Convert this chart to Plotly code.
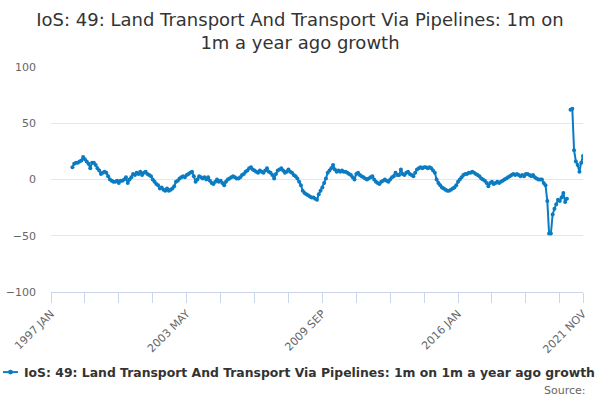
import plotly.graph_objects as go

month_names = ["JAN", "FEB", "MAR", "APR", "MAY", "JUN",
               "JUL", "AUG", "SEP", "OCT", "NOV", "DEC"]
months = [f"{y} {m}" for y in range(1997, 2022) for m in month_names][:299]

# monthly growth, 1998 JAN onwards (1997 has no year-ago base)
growth = [None] * 12 + [
    11, 14, 15, 15, 16, 17, 20, 18, 16, 14, 10, 15,      # 1998
    15, 13, 10, 8, 5, 6, 7, 6, 3, 0, -1, -2,             # 1999
    -2, -1, -3, -1, -1, 0, 2, -3, 0, 2, 5, 4,            # 2000
    6, 5, 7, 4, 6, 7, 5, 4, 3, 0, -2, -4,                # 2001
    -5, -8, -7, -9, -10, -8, -10, -9, -8, -6, -2, -1,    # 2002
    1, 2, 3, 2, 4, 5, 6, 7, 3, -2, 0, 3,                 # 2003
    2, 1, 2, 0, 2, -1, -3, -4, -2, 0, -2, -1,            # 2004
    -3, -5, -2, 0, 1, 2, 3, 2, 1, 1, 2, 4,               # 2005
    5, 7, 8, 10, 11, 9, 8, 7, 6, 8, 7, 6,                # 2006
    8, 10, 7, 6, 4, 1, 5, 8, 9, 10, 8, 6,                # 2007
    7, 9, 7, 6, 4, 3, 1, -2, -5, -10, -12, -13,          # 2008
    -14, -15, -16, -16, -17, -18, -13, -10, -7, -3, 1, 6,  # 2009
    8, 10, 13, 9, 7, 8, 7, 8, 7, 7, 6, 5,                # 2010
    4, 2, 0, 5, 6, 4, 3, 2, 1, 0, 1, 2,                  # 2011
    3, 0, -2, -3, -4, -2, -1, 0, -1, -2, 0, 2,           # 2012
    3, 6, 4, 4, 9, 5, 4, 6, 7, 5, 4, 3,                  # 2013
    6, 9, 10, 11, 10, 11, 11, 10, 11, 10, 8, 6,          # 2014
    0, -3, -5, -7, -8, -9, -10, -10, -9, -8, -7, -5,     # 2015
    -2, 0, 2, 4, 5, 5, 6, 6, 7, 6, 5, 4,                 # 2016
    3, 1, 0, -1, -3, -6, -3, -2, -4, -3, -2, -3,         # 2017
    -2, -1, 0, 1, 2, 3, 4, 5, 4, 5, 4, 3,                # 2018
    4, 3, 5, 5, 4, 3, 4, 2, 1, 0, 0, 0,                  # 2019
    -3, -5, -19, -48, -48, -31, -26, -22, -18, -19, -16, -12,  # 2020
    -20, -17, None, 62, 63, 26, 16, 13, 7, 15, 21,       # 2021
]

series_name = "IoS: 49: Land Transport And Transport Via Pipelines: 1m on 1m a year ago growth"
line_color = "#0b7cc1"

tick_idx = list(range(0, 299, 19)) + [298]
tick_vals = [months[i] for i in tick_idx]
tick_text = [months[i] if i in (0, 76, 152, 228, 298) else "" for i in tick_idx]

fig = go.Figure()
fig.add_trace(
    go.Scatter(
        x=months,
        y=growth,
        mode="lines+markers",
        name=series_name,
        line=dict(color=line_color, width=2),
        marker=dict(color=line_color, size=4),
        connectgaps=False,
        showlegend=False,
    )
)

fig.update_xaxes(
    type="category",
    categoryorder="array",
    categoryarray=months,
    range=[0, 298],
    tickmode="array",
    tickvals=tick_vals,
    ticktext=tick_text,
    tickangle=-45,
    ticks="outside",
    ticklen=10,
    tickcolor="#ccd6eb",
    showline=True,
    linecolor="#ccd6eb",
    showgrid=False,
    automargin=False,
    tickfont=dict(size=11, color="#666666"),
)
fig.update_yaxes(
    range=[-100, 100],
    tickvals=[-100, -50, 0, 50, 100],
    showgrid=True,
    gridcolor="#e6e6e6",
    zeroline=False,
    automargin=False,
    ticklabelstandoff=14,
    tickfont=dict(size=11, color="#666666"),
)

# legend drawn by hand: the native one is wider than the page
legend_y = -0.356
fig.add_shape(type="line", xref="paper", yref="paper",
              x0=-0.0902, x1=-0.062, y0=legend_y, y1=legend_y,
              line=dict(color=line_color, width=2))
fig.add_shape(type="circle", xref="paper", yref="paper",
              x0=-0.0761 - 0.0047, x1=-0.0761 + 0.0047,
              y0=legend_y - 0.011, y1=legend_y + 0.011,
              fillcolor=line_color, line=dict(width=0))

fig.update_layout(
    width=600,
    height=400,
    margin=dict(l=51, r=17, t=67, b=108),
    paper_bgcolor="white",
    plot_bgcolor="white",
    font=dict(family="DejaVu Sans", color="#333333"),
    title=dict(
        text="IoS: 49: Land Transport And Transport Via Pipelines: 1m on<br>1m a year ago growth",
        x=0.5,
        xanchor="center",
        y=0.935,
        yanchor="middle",
        font=dict(size=18, color="#333333"),
    ),
    showlegend=False,
    annotations=[
        dict(
            text="<b>" + series_name + "</b>",
            xref="paper",
            yref="paper",
            x=-0.0545,
            y=legend_y,
            xanchor="left",
            yanchor="middle",
            showarrow=False,
            font=dict(size=12.4, color="#333333"),
        ),
        dict(
            text="Source:",
            xref="paper",
            yref="paper",
            x=1.009,
            y=-0.436,
            xanchor="right",
            yanchor="middle",
            showarrow=False,
            font=dict(size=11, color="#666666"),
        ),
    ],
)

# the page's default body margin would push the 600x400 figure off the window
fig.write_html(
    "out.html",
    config={"displayModeBar": False},
    post_script="document.body.style.margin = '0';",
)
